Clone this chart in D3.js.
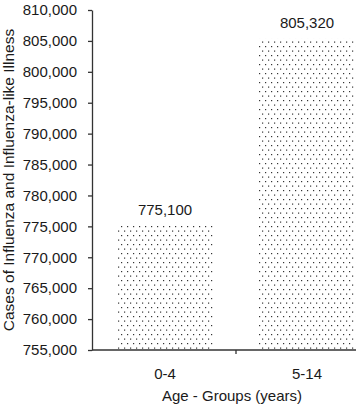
<!DOCTYPE html>
<html>
<head>
<meta charset="utf-8">
<script src="https://cdn.jsdelivr.net/npm/d3@7"></script>
<style>
  body { margin: 0; background: #fff; }
  text { font-family: "Liberation Sans", Arial, Helvetica, sans-serif; fill: #1a1a1a; }
</style>
</head>
<body>
<script>

var Width = 357;      // of SVG
var Height = 407;     // of SVG

// the data
var groups = ["0-4", "5-14"];
var cases = [775100, 805320];
var yTicks = [755000, 760000, 765000, 770000, 775000, 780000, 785000,
              790000, 795000, 800000, 805000, 810000];
var xTitle = "Age - Groups (years)";
var yTitle = "Cases of Influenza and Influenza-like Illness";

var Left = 92, Right = 356, Top = 10, Bottom = 350;

function main () {

  var svg = d3.select("body")
    .append("svg")
    .attr("width", Width)
    .attr("height", Height);

  // dotted fill
  var pat = svg.append("defs").append("pattern")
    .attr("id", "dots")
    .attr("patternUnits", "userSpaceOnUse")
    .attr("width", 6)
    .attr("height", 9);
  pat.append("rect").attr("x", 1).attr("y", 1).attr("width", 1.2).attr("height", 1.2).attr("fill", "#333");
  pat.append("rect").attr("x", 4).attr("y", 5.5).attr("width", 1.2).attr("height", 1.2).attr("fill", "#333");

  var xScale = d3.scaleBand()
    .domain(groups)
    .range([Left, 380])
    .paddingInner(0.324)
    .paddingOuter(0.176);

  var yScale = d3.scaleLinear()
    .domain([755000, 810000])
    .range([Bottom, Top]);

  // bars
  svg.selectAll("rect.bar")
    .data(groups)
    .enter()
    .append("rect")
    .attr("class", "bar")
    .attr("x", function(d) { return xScale(d); })
    .attr("y", function(d, i) { return yScale(cases[i]); })
    .attr("width", xScale.bandwidth())
    .attr("height", function(d, i) { return Bottom - yScale(cases[i]); })
    .attr("fill", "url(#dots)");

  // value labels
  svg.selectAll("text.value")
    .data(groups)
    .enter()
    .append("text")
    .attr("class", "value")
    .attr("x", function(d) { return xScale(d) + xScale.bandwidth() / 2; })
    .attr("y", function(d, i) { return yScale(cases[i]) - 11; })
    .attr("text-anchor", "middle")
    .style("font-size", "15px")
    .text(function(d, i) { return d3.format(",")(cases[i]); });

  // y axis
  var yAxis = d3.axisLeft(yScale)
    .tickValues(yTicks)
    .tickFormat(d3.format(","))
    .tickSize(4)
    .tickPadding(11)
    .tickSizeOuter(0);

  var gy = svg.append("g")
    .attr("transform", "translate(" + Left + ",0)")
    .call(yAxis);
  gy.selectAll("text").style("font-size", "15px").attr("fill", "#1a1a1a");
  gy.selectAll("line, path").attr("stroke", "#333").attr("stroke-width", 1.3);

  // x axis: labels from the band scale, own line and middle tick
  var xAxis = d3.axisBottom(xScale)
    .tickSize(0)
    .tickPadding(18);

  var gx = svg.append("g")
    .attr("transform", "translate(0," + Bottom + ")")
    .call(xAxis);
  gx.select("path.domain").remove();
  gx.selectAll("text").style("font-size", "15px").attr("fill", "#1a1a1a");

  var midTick = (xScale(groups[0]) + xScale.bandwidth() + xScale(groups[1])) / 2;
  gx.append("line")
    .attr("x1", Left).attr("x2", Right)
    .attr("y1", 0).attr("y2", 0)
    .attr("stroke", "#333").attr("stroke-width", 1.3);
  gx.append("line")
    .attr("x1", midTick).attr("x2", midTick)
    .attr("y1", 0).attr("y2", 4)
    .attr("stroke", "#333").attr("stroke-width", 1.3);

  // axis titles
  svg.append("text")
    .attr("x", 232)
    .attr("y", 401)
    .attr("text-anchor", "middle")
    .style("font-size", "15px")
    .text(xTitle);

  svg.append("text")
    .attr("transform", "translate(14," + 180 + ") rotate(-90)")
    .attr("text-anchor", "middle")
    .style("font-size", "15.5px")
    .text(yTitle);
}

main();

</script>
</body>
</html>
